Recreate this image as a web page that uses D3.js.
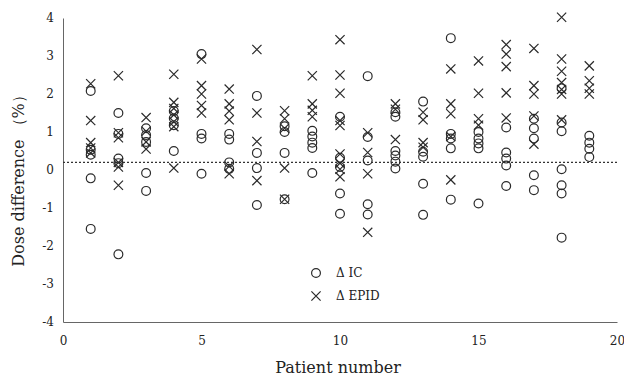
<!DOCTYPE html>
<meta charset="utf-8">
<style>
  body { margin: 0; background: #fff; }
  text { font-family: "DejaVu Serif", "Liberation Serif", serif; fill: #222; }
</style>
<div id="chart"></div>
<script src="https://d3js.org/d3.v7.min.js"></script>
<script>

const patients = [1, 2, 3, 4, 5, 6, 7, 8, 9, 10, 11, 12, 13, 14, 15, 16, 17, 18, 19];

const icValues = [
  [2.08, 0.53, 0.4, -0.22, -1.55],
  [1.5, 0.95, 0.3, 0.18, -2.22],
  [1.1, 0.92, 0.74, -0.08, -0.55],
  [1.55, 1.36, 1.18, 0.5],
  [3.05, 0.95, 0.83, -0.1],
  [0.95, 0.8, 0.2, 0.03],
  [1.95, 0.45, 0.05, -0.92],
  [1.15, 1.0, 0.45, -0.77],
  [1.03, 0.88, 0.72, 0.58, -0.08],
  [1.4, 0.32, 0.08, -0.62, -1.15],
  [2.47, 0.87, 0.25, -0.9, -1.17],
  [1.52, 1.4, 0.5, 0.38, 0.22, 0.04],
  [1.8, 0.48, 0.35, -0.36, -1.18],
  [3.47, 0.95, 0.83, 0.57, -0.78],
  [1.0, 0.83, 0.7, 0.57, -0.88],
  [1.12, 0.46, 0.3, 0.12, -0.42],
  [1.35, 1.1, 0.83, -0.14, -0.53],
  [2.15, 1.25, 1.02, 0.02, -0.4, -0.62, -1.78],
  [0.9, 0.72, 0.56, 0.34]
];

const epidValues = [
  [2.27, 1.3, 0.72, 0.58, 0.45],
  [2.48, 0.98, 0.85, 0.2, 0.08, -0.4],
  [1.38, 1.02, 0.74, 0.55],
  [2.52, 1.78, 1.62, 1.45, 1.27, 1.14, 0.05],
  [2.92, 2.22, 2.0, 1.7, 1.5],
  [2.13, 1.74, 1.55, 1.32, 0.1, -0.1],
  [3.17, 1.5, 0.75, -0.28],
  [1.56, 1.35, 1.1, 0.05, -0.77],
  [2.48, 1.74, 1.57, 1.4],
  [3.43, 2.5, 2.02, 1.3, 1.17, 0.42, 0.18, 0.02, -0.18],
  [0.98, 0.46, -0.1, -1.64],
  [1.74, 1.6, 0.8],
  [1.52, 1.32, 0.72, 0.6],
  [2.66, 1.74, 1.48, 0.88, -0.26],
  [2.87, 2.02, 1.35, 1.18],
  [3.3, 3.05, 2.72, 2.03, 1.37],
  [3.2, 2.22, 2.0, 1.42, 0.68],
  [4.02, 2.92, 2.6, 2.3, 2.12, 2.0, 1.32],
  [2.74, 2.35, 2.15, 2.0]
];

const yTicks = [-4, -3, -2, -1, 0, 1, 2, 3, 4];
const xTicks = [0, 5, 10, 15, 20];
const baselineValue = 0.2;

const width = 624, height = 380;
const margin = {top: 18, right: 7, bottom: 58, left: 63};

const svg = d3.select("#chart").append("svg")
  .attr("width", width)
  .attr("height", height);

const x = d3.scaleLinear().domain([0, 20]).range([margin.left, width - margin.right]);
const y = d3.scaleLinear().domain([-4, 4]).range([height - margin.bottom, margin.top]);

// axes
const xAxis = svg.append("g")
  .attr("transform", "translate(0," + y(-4) + ")")
  .call(d3.axisBottom(x).tickValues(xTicks).tickSize(0).tickPadding(14));
const yAxis = svg.append("g")
  .attr("transform", "translate(" + x(0) + ",0)")
  .call(d3.axisLeft(y).tickValues(yTicks).tickSize(0).tickPadding(9)
    .tickFormat(function(d) { return String(d); }));

[xAxis, yAxis].forEach(function(a) {
  a.select(".domain").attr("stroke", "#666").attr("stroke-width", 1);
  a.selectAll("text").attr("font-size", 12).attr("fill", "#222")
    .attr("font-family", "DejaVu Serif, serif");
});

// dotted reference line
svg.append("line")
  .attr("x1", x(0)).attr("x2", x(20))
  .attr("y1", y(baselineValue)).attr("y2", y(baselineValue))
  .attr("stroke", "#333")
  .attr("stroke-width", 1.2)
  .attr("stroke-dasharray", "2,2");

// flatten data
const icPoints = [], epidPoints = [];
patients.forEach(function(p, i) {
  icValues[i].forEach(function(v) { icPoints.push({p: p, v: v}); });
  epidValues[i].forEach(function(v) { epidPoints.push({p: p, v: v}); });
});

const r = 4.4, c = 4.6;

svg.append("g").selectAll("circle")
  .data(icPoints)
  .enter().append("circle")
    .attr("cx", function(d) { return x(d.p); })
    .attr("cy", function(d) { return y(d.v); })
    .attr("r", r)
    .attr("fill", "none")
    .attr("stroke", "#2a2a2a")
    .attr("stroke-width", 1.2);

svg.append("g").selectAll("path")
  .data(epidPoints)
  .enter().append("path")
    .attr("d", function(d) {
      const cx = x(d.p), cy = y(d.v);
      return "M" + (cx - c) + "," + (cy - c) + "L" + (cx + c) + "," + (cy + c) +
             "M" + (cx - c) + "," + (cy + c) + "L" + (cx + c) + "," + (cy - c);
    })
    .attr("fill", "none")
    .attr("stroke", "#2a2a2a")
    .attr("stroke-width", 1.2);

// legend
const legend = svg.append("g");
legend.append("circle")
  .attr("cx", 316).attr("cy", 273).attr("r", r)
  .attr("fill", "none").attr("stroke", "#2a2a2a").attr("stroke-width", 1.2);
legend.append("path")
  .attr("d", "M" + (316 - c) + "," + (296 - c) + "L" + (316 + c) + "," + (296 + c) +
             "M" + (316 - c) + "," + (296 + c) + "L" + (316 + c) + "," + (296 - c))
  .attr("stroke", "#2a2a2a").attr("stroke-width", 1.2);
legend.append("text").attr("x", 336).attr("y", 277).attr("font-size", 12).text("Δ IC");
legend.append("text").attr("x", 336).attr("y", 300).attr("font-size", 12).text("Δ EPID");

// axis titles
svg.append("text")
  .attr("x", 338)
  .attr("y", 373)
  .attr("text-anchor", "middle")
  .attr("font-size", 16)
  .text("Patient number");

svg.append("text")
  .attr("transform", "translate(24,177) rotate(-90)")
  .attr("text-anchor", "middle")
  .attr("font-size", 16)
  .text("Dose difference （%）");

</script>
